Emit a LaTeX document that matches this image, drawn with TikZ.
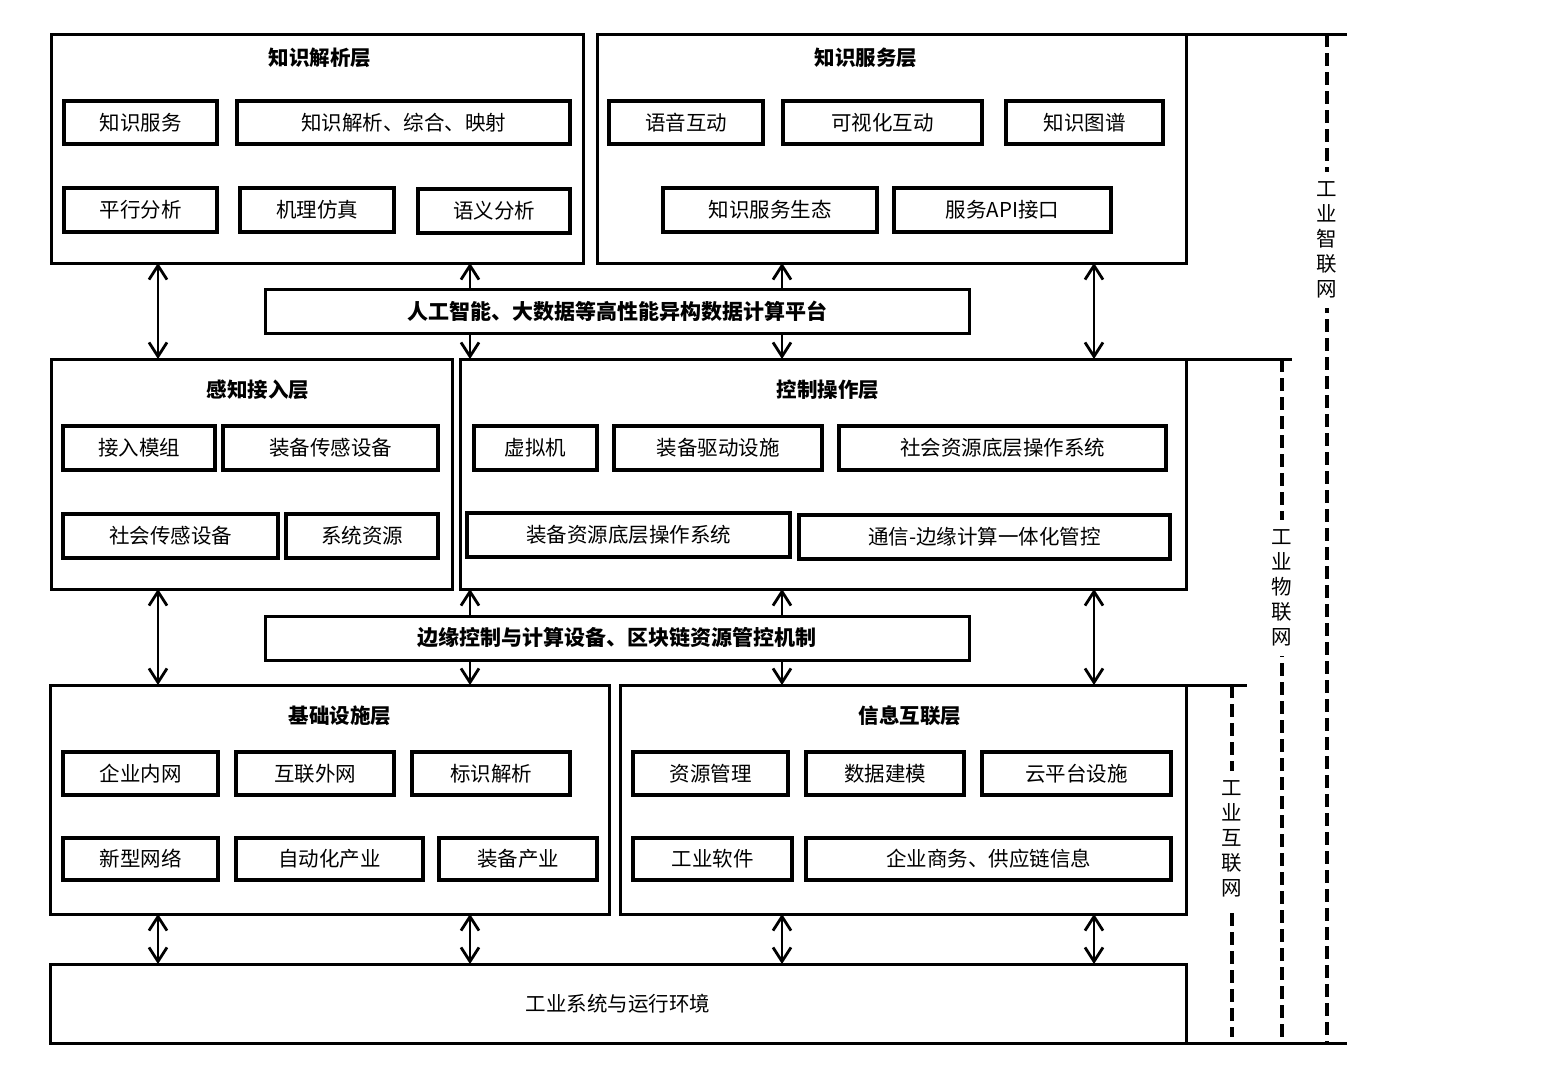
\documentclass[tikz,border=0pt]{standalone}
\usepackage{fontspec}
\newfontfamily\cjk{Noto Sans CJK SC}
\usepackage{tikz}
\usetikzlibrary{positioning}
\usetikzlibrary{arrows.meta}
\tikzstyle{layer} = [rectangle, draw=black, line width=3pt, outer sep=0pt, inner sep=0pt, font=\cjk\fontsize{20.5}{24}\selectfont]
\tikzstyle{item} = [rectangle, draw=black, line width=3.2pt, inner sep=0pt, minimum height=43pt, text centered, font=\cjk\fontsize{20.5}{24}\selectfont]
\tikzstyle{ltitle} = [font=\cjk\bfseries\fontsize{20.5}{24}\selectfont]
\tikzstyle{platform} = [rectangle, draw=black, line width=3pt, outer sep=0pt, minimum width=704pt, minimum height=44pt, font=\cjk\bfseries\fontsize{21}{24}\selectfont]
\tikzstyle{both} = [line width=2.8pt, >={Straight Barb[length=14pt,width=18pt]}, <->]
\tikzstyle{oneway} = [line width=2.8pt, >={Straight Barb[length=14pt,width=18pt]}, ->]
\tikzstyle{rule} = [line width=3pt]
\tikzstyle{net} = [line width=3.4pt, dash pattern=on 13pt off 6pt]
\tikzstyle{netlabel} = [fill=white, align=center, inner sep=10pt, font=\cjk\fontsize{20.5}{25}\selectfont]

\begin{document}
\begin{tikzpicture}[x=1pt,y=-1pt]
	\useasboundingbox (0,0) rectangle (1548,1077);
	% columns of the arrows and the side lines
	\coordinate (c1) at (158,0);
	\coordinate (c2) at (470,0);
	\coordinate (c3) at (782,0);
	\coordinate (c4) at (1094,0);
	\coordinate (n1) at (1327,0);
	\coordinate (n2) at (1282,0);
	\coordinate (n3) at (1232,0);
	\coordinate (e1) at (1347,0);
	\coordinate (e2) at (1292,0);
	\coordinate (e3) at (1247,0);
	% top row
	\node (kp) [layer, minimum width=532pt, minimum height=229pt] at (317,148.5) {};
	\node (kpt) [ltitle] at (320,58) {知识解析层};
	\node (kp1) [item, minimum width=153pt] at (140.5,122.5) {知识服务};
	\node (kp2) [item, minimum width=333pt] at (403.5,122.5) {知识解析、综合、映射};
	\node (kp3) [item, minimum width=153pt, minimum height=44pt] at (140.5,210) {平行分析};
	\node (kp4) [item, minimum width=154pt, minimum height=44pt] at (317,210) {机理仿真};
	\node (kp5) [item, minimum width=152pt, minimum height=44pt] at (494,211) {语义分析};
	\node (ks) [layer, minimum width=589pt, minimum height=229pt] at (891.5,148.5) {};
	\node (kst) [ltitle] at (866,58) {知识服务层};
	\node (ks1) [item, minimum width=154pt] at (686,122.5) {语音互动};
	\node (ks2) [item, minimum width=199pt] at (882.5,122.5) {可视化互动};
	\node (ks3) [item, minimum width=157pt] at (1084.5,122.5) {知识图谱};
	\node (ks4) [item, minimum width=214pt, minimum height=44pt] at (770,210) {知识服务生态};
	\node (ks5) [item, minimum width=217pt, minimum height=44pt] at (1002.5,210) {服务API接口};
	\node (ai) [platform] at (617,311) {人工智能、大数据等高性能异构数据计算平台};
	% middle row
	\node (sense) [layer, minimum width=401pt, minimum height=230pt] at (251.5,474) {};
	\node (senset) [ltitle] at (258,390) {感知接入层};
	\node (se1) [item, minimum width=152pt, minimum height=44pt] at (139,448) {接入模组};
	\node (se2) [item, minimum width=215pt, minimum height=44pt] at (330.5,448) {装备传感设备};
	\node (se3) [item, minimum width=215pt, minimum height=44pt] at (170.5,536) {社会传感设备};
	\node (se4) [item, minimum width=152pt, minimum height=44pt] at (362,536) {系统资源};
	\node (ctrl) [layer, minimum width=726pt, minimum height=230pt] at (823,474) {};
	\node (ctrlt) [ltitle] at (828,390) {控制操作层};
	\node (ct1) [item, minimum width=123pt, minimum height=44pt] at (535.5,448) {虚拟机};
	\node (ct2) [item, minimum width=208pt, minimum height=44pt] at (718,448) {装备驱动设施};
	\node (ct3) [item, minimum width=327pt, minimum height=44pt] at (1002.5,448) {社会资源底层操作系统};
	\node (ct4) [item, minimum width=323pt, minimum height=44pt] at (628.5,535) {装备资源底层操作系统};
	\node (ct5) [item, minimum width=371pt, minimum height=44pt] at (984.5,537) {通信-边缘计算一体化管控};
	\node (edge) [platform] at (617,638) {边缘控制与计算设备、区块链资源管控机制};
	% bottom row
	\node (infra) [layer, minimum width=559pt, minimum height=229pt] at (329.5,799.5) {};
	\node (infrat) [ltitle] at (340,716) {基础设施层};
	\node (in1) [item, minimum width=155pt] at (140.5,773.5) {企业内网};
	\node (in2) [item, minimum width=158pt] at (315,773.5) {互联外网};
	\node (in3) [item, minimum width=158pt] at (491,773.5) {标识解析};
	\node (in4) [item, minimum width=155pt, minimum height=42pt] at (140.5,859) {新型网络};
	\node (in5) [item, minimum width=187pt, minimum height=42pt] at (329.5,859) {自动化产业};
	\node (in6) [item, minimum width=158pt, minimum height=42pt] at (518,859) {装备产业};
	\node (info) [layer, minimum width=566pt, minimum height=229pt] at (903,799.5) {};
	\node (infot) [ltitle] at (910,716) {信息互联层};
	\node (if1) [item, minimum width=155pt] at (710.5,773.5) {资源管理};
	\node (if2) [item, minimum width=158pt] at (885,773.5) {数据建模};
	\node (if3) [item, minimum width=189pt] at (1076.5,773.5) {云平台设施};
	\node (if4) [item, minimum width=159pt, minimum height=42pt] at (712.5,859) {工业软件};
	\node (if5) [item, minimum width=365pt, minimum height=42pt] at (988.5,859) {企业商务、供应链信息};
	\node (env) [layer, minimum width=1136pt, minimum height=79pt] at (618,1003.5) {工业系统与运行环境};
	% arrows between the rows
	\draw [both] (c1 |- kp.south) -- (c1 |- sense.north);
	\draw [oneway] (c2 |- ai.north) -- (c2 |- kp.south);
	\draw [oneway] (c2 |- ai.south) -- (c2 |- ctrl.north);
	\draw [oneway] (c3 |- ai.north) -- (c3 |- ks.south);
	\draw [oneway] (c3 |- ai.south) -- (c3 |- ctrl.north);
	\draw [both] (c4 |- ks.south) -- (c4 |- ctrl.north);
	\draw [both] (c1 |- sense.south) -- (c1 |- infra.north);
	\draw [oneway] (c2 |- edge.north) -- (c2 |- ctrl.south);
	\draw [oneway] (c2 |- edge.south) -- (c2 |- infra.north);
	\draw [oneway] (c3 |- edge.north) -- (c3 |- ctrl.south);
	\draw [oneway] (c3 |- edge.south) -- (c3 |- info.north);
	\draw [both] (c4 |- ctrl.south) -- (c4 |- info.north);
	\draw [both] (c1 |- infra.south) -- (c1 |- env.north);
	\draw [both] (c2 |- infra.south) -- (c2 |- env.north);
	\draw [both] (c3 |- info.south) -- (c3 |- env.north);
	\draw [both] (c4 |- info.south) -- (c4 |- env.north);
	% side lines
	\draw [rule] (ks.north east) -- (ks.north east -| e1);
	\draw [rule] (ctrl.north east) -- (ctrl.north east -| e2);
	\draw [rule] (info.north east) -- (info.north east -| e3);
	\draw [rule] (env.south east) -- (env.south east -| e1);
	\draw [net] (n1 |- ks.north) -- (n1 |- env.south);
	\draw [net] (n2 |- ctrl.north) -- (n2 |- env.south);
	\draw [net, shorten >=6pt] (n3 |- info.north) -- (n3 |- env.south);
	\node (net1) [netlabel] at (1327,240) {工\\业\\智\\联\\网};
	\node (net2) [netlabel] at (1282,588) {工\\业\\物\\联\\网};
	\node (net3) [netlabel] at (1232,839) {工\\业\\互\\联\\网};
\end{tikzpicture}
\end{document}
